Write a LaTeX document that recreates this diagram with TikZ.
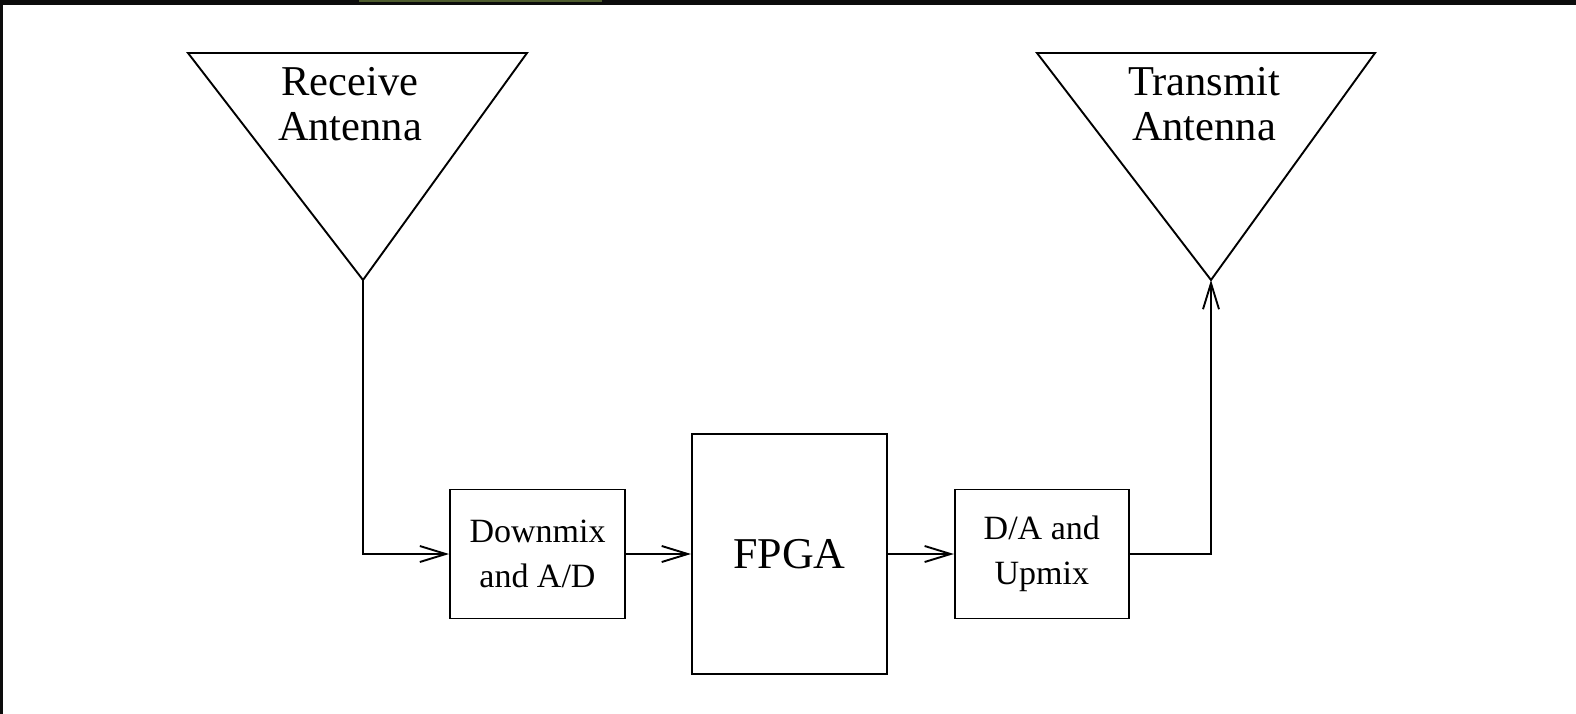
\documentclass[tikz,border=0pt]{standalone}
\usepackage{fontspec}
\setmainfont{Liberation Serif}
\usetikzlibrary{arrows.meta,positioning}
\definecolor{bandblack}{RGB}{12,12,12}
\definecolor{tabolive}{RGB}{78,92,46}

\begin{document}
\begin{tikzpicture}[x=1pt,y=-1pt,>={Straight Barb[length=26pt,width=16pt]},
    every node/.style={align=center},
    block/.style={draw,line width=1.9pt,inner sep=0pt},
    wire/.style={line width=1.9pt}]
  % frame of the screenshot
  \useasboundingbox (0,0) rectangle (1576,714);
  \fill[white] (0,0) rectangle (1576,714);
  \fill[bandblack] (0,0) rectangle (1576,5);
  \fill[bandblack] (0,0) rectangle (2.5,714);
  \fill[tabolive] (359,0) rectangle (602,2);

  % antennas
  \coordinate (rxL) at (188,53);
  \coordinate (rxR) at (527,53);
  \coordinate (rxA) at (363,280);
  \coordinate (txL) at (1037,53);
  \coordinate (txR) at (1375,53);
  \coordinate (txA) at (1211,280);
  \draw[wire,line join=miter] (rxL) -- (rxR) -- (rxA) -- cycle;
  \draw[wire,line join=miter] (txL) -- (txR) -- (txA) -- cycle;
  \node[font=\fontsize{42.5}{45}\selectfont] (rxtext) at (350,104) {Receive\\Antenna};
  \node[font=\fontsize{42.5}{45}\selectfont] (txtext) at (1204,104) {Transmit\\Antenna};

  % signal chain
  \node[block,minimum width=175pt,minimum height=129pt,
        font=\fontsize{34}{45}\selectfont] (down) at (537.5,554) {Downmix\\and A/D};
  \node[block,minimum width=195pt,minimum height=240pt,right=65pt of down,
        font=\fontsize{44}{50}\selectfont] (fpga) {FPGA};
  \node[block,minimum width=174pt,minimum height=129pt,right=66pt of fpga,
        font=\fontsize{34}{45}\selectfont] (daup) {D/A and\\Upmix};

  \draw[wire,->] (rxA) |- (down.west);
  \draw[wire,->] (down) -- (fpga);
  \draw[wire,->] (fpga) -- (daup);
  \draw[wire,->] (daup.east) -| (txA);
\end{tikzpicture}
\end{document}
